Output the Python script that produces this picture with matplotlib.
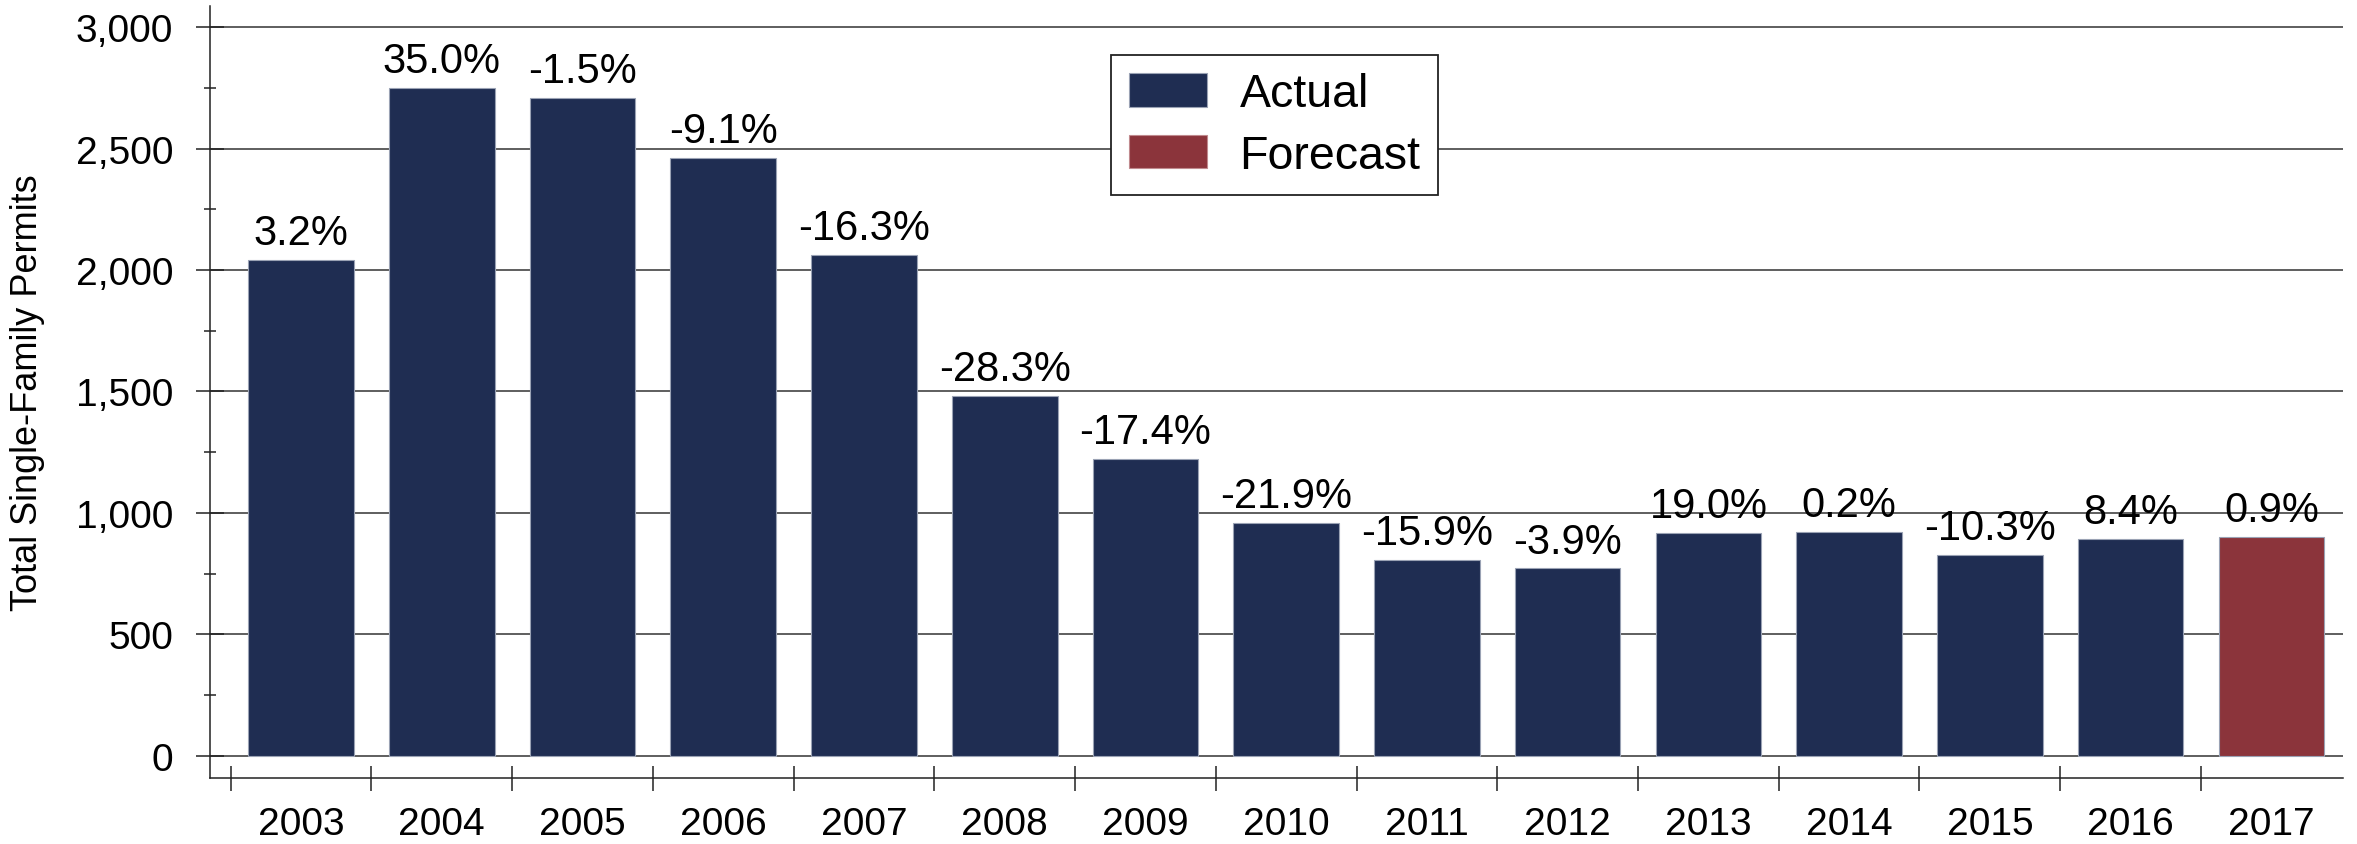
import numpy as np
import matplotlib
matplotlib.use("Agg")
import matplotlib.pyplot as plt
from matplotlib.patches import Patch
from matplotlib.ticker import MultipleLocator, FuncFormatter

plt.rcParams['font.family'] = ['Liberation Sans', 'DejaVu Sans']

# Data
years = ['2003', '2004', '2005', '2006', '2007', '2008', '2009', '2010',
         '2011', '2012', '2013', '2014', '2015', '2016', '2017']
permits = [2040, 2750, 2708, 2462, 2064, 1481, 1222, 958,
           805, 771, 918, 920, 826, 892, 901]
pct_change = ['3.2%', '35.0%', '-1.5%', '-9.1%', '-16.3%', '-28.3%', '-17.4%', '-21.9%',
              '-15.9%', '-3.9%', '19.0%', '0.2%', '-10.3%', '8.4%', '0.9%']
is_forecast = [False] * 14 + [True]

navy = '#1f2d52'
red = '#8b343b'

fig = plt.figure(figsize=(23.57, 8.45), dpi=100)
ax = fig.add_axes([0.0891, 0.0781, 0.9050, 0.9140])

x = np.arange(len(years))
colors = [red if f else navy for f in is_forecast]
bars = ax.bar(x, permits, width=0.75, color=colors, edgecolor='#9aa2b4',
              linewidth=0.8, zorder=3)

# percent change labels above the bars
for xi, val, txt in zip(x, permits, pct_change):
    ax.annotate(txt, (xi, val), xytext=(0, 5), textcoords='offset points',
                ha='center', va='bottom', fontsize=30, zorder=4)

ax.set_xlim(-0.647, 14.51)
ax.set_ylim(-92, 3089)

# y axis
ax.yaxis.set_major_locator(MultipleLocator(500))
ax.yaxis.set_minor_locator(MultipleLocator(250))
ax.yaxis.set_major_formatter(FuncFormatter(lambda v, p: f'{int(v):,}'))
ax.tick_params(axis='y', which='major', direction='inout', length=20, width=1.1,
               pad=16.5, labelsize=28, color='#222222')
ax.tick_params(axis='y', which='minor', direction='inout', length=8.6, width=1.1,
               color='#222222')
ax.yaxis.grid(True, which='major', color='#333333', linewidth=1.1, zorder=1)

# x axis: labels at bar centres, ticks at category boundaries
ax.set_xticks(x)
ax.set_xticklabels(years)
ax.set_xticks(np.arange(-0.5, 14.0, 1.0), minor=True)
ax.tick_params(axis='x', which='major', length=0, pad=20, labelsize=28)
ax.tick_params(axis='x', which='minor', direction='inout', length=18, width=1.1,
               color='#222222')

for side in ['top', 'right']:
    ax.spines[side].set_visible(False)
for side in ['left', 'bottom']:
    ax.spines[side].set_color('#222222')
    ax.spines[side].set_linewidth(1.1)

ax.set_ylabel('Total Single-Family Permits', fontsize=26)
ax.yaxis.set_label_coords(-0.0775, 0.5)

handles = [Patch(facecolor=navy, edgecolor='#9aa2b4', linewidth=0.8, label='Actual'),
           Patch(facecolor=red, edgecolor='#c08a8e', linewidth=0.8, label='Forecast')]
leg = fig.legend(handles=handles, loc='upper left', bbox_to_anchor=(0.4714, 0.934),
                 fontsize=33.5, frameon=True, fancybox=False, framealpha=1,
                 edgecolor='#222222', handlelength=1.68, handleheight=0.73,
                 handletextpad=0.7, labelspacing=0.37, borderpad=0.38,
                 borderaxespad=0)
leg.get_frame().set_linewidth(1.3)

fig.savefig('out.png', dpi=100)
